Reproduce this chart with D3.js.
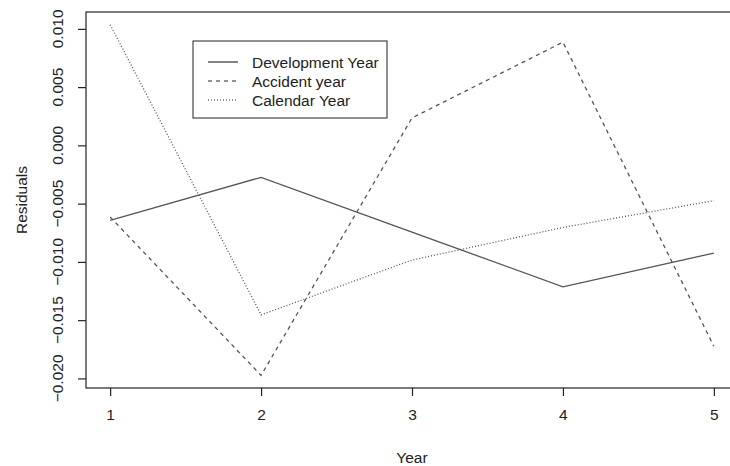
<!DOCTYPE html>
<html>
<head>
<meta charset="utf-8">
<script src="https://cdn.jsdelivr.net/npm/d3@7"></script>
<style>
  body { margin: 0; background: #fff; }
  svg text { font-family: "Liberation Sans", Arial, sans-serif; fill: #222; }
</style>
</head>
<body>
<div id="chart"></div>
<script>
const years = [1, 2, 3, 4, 5];
const developmentYear = [-0.0064, -0.0027, -0.0074, -0.0121, -0.0092];
const accidentYear = [-0.0061, -0.0197, 0.0024, 0.0089, -0.0172];
const calendarYear = [0.0104, -0.0145, -0.0098, -0.0070, -0.0047];
const yTicks = [-0.020, -0.015, -0.010, -0.005, 0.000, 0.005, 0.010];
const seriesNames = ["Development Year", "Accident year", "Calendar Year"];

const width = 730;
const height = 466;
const box = { left: 86, right: 738, top: 12, bottom: 388 };
const lineColor = "#555";
const dashes = [null, "4,4", "1,2"];
const fontSize = "15.5px";

const svg = d3.select("#chart")
  .append("svg")
  .attr("width", width)
  .attr("height", height);

// R style: 4% padding around the data range
const xScale = d3.scaleLinear()
  .domain([0.84, 5.16])
  .range([box.left, box.right]);

const yScale = d3.scaleLinear()
  .domain([-0.02078, 0.01149])
  .range([box.bottom, box.top]);

const series = [developmentYear, accidentYear, calendarYear];

const line = d3.line()
  .x((d, i) => xScale(years[i]))
  .y((d) => yScale(d));

for (var i = 0; i < series.length; i++) {
  svg.append("path")
    .attr("d", line(series[i]))
    .attr("fill", "none")
    .attr("stroke", lineColor)
    .attr("stroke-width", 1.3)
    .attr("stroke-dasharray", dashes[i]);
}

// plot frame
svg.append("rect")
  .attr("x", box.left)
  .attr("y", box.top)
  .attr("width", box.right - box.left)
  .attr("height", box.bottom - box.top)
  .attr("fill", "none")
  .attr("stroke", "#222")
  .attr("stroke-width", 1.2);

// axes
const xAxis = svg.append("g")
  .attr("transform", `translate(0,${box.bottom})`)
  .call(d3.axisBottom(xScale).tickValues(years).tickSize(8).tickPadding(13).tickFormat(d3.format("d")));

const yAxis = svg.append("g")
  .attr("transform", `translate(${box.left},0)`)
  .call(d3.axisLeft(yScale).tickValues(yTicks).tickSize(8).tickFormat(d3.format(".3f")));

[xAxis, yAxis].forEach((ax) => {
  ax.select(".domain").remove();
  ax.attr("color", "#222");
  ax.selectAll("line").attr("stroke", "#222").attr("stroke-width", 1.2);
  ax.selectAll("text").style("font-size", fontSize).attr("fill", "#222");
});

// rotated y tick labels like R las=0
yAxis.selectAll("text")
  .attr("x", null)
  .attr("dy", null)
  .attr("text-anchor", "middle")
  .attr("transform", (d) => `translate(-29,${yScale(d) - 0.5}) rotate(-90)`)
  .attr("y", 0)
  .attr("dominant-baseline", "central");
yAxis.selectAll(".tick").attr("transform", null);
yAxis.selectAll(".tick line")
  .attr("y1", (d) => yScale(d))
  .attr("y2", (d) => yScale(d));

// axis titles
svg.append("text")
  .attr("x", xScale(3))
  .attr("y", 463)
  .attr("text-anchor", "middle")
  .style("font-size", fontSize)
  .text("Year");

svg.append("text")
  .attr("transform", `translate(27,${(box.top + box.bottom) / 2}) rotate(-90)`)
  .attr("text-anchor", "middle")
  .style("font-size", fontSize)
  .text("Residuals");

// legend
const legend = svg.append("g").attr("transform", "translate(193,41)");
legend.append("rect")
  .attr("width", 194)
  .attr("height", 77)
  .attr("fill", "#fff")
  .attr("stroke", "#222")
  .attr("stroke-width", 1);

seriesNames.forEach((name, i) => {
  const y = 21 + i * 19;
  legend.append("line")
    .attr("x1", 15)
    .attr("x2", 45)
    .attr("y1", y)
    .attr("y2", y)
    .attr("stroke", "#222")
    .attr("stroke-width", 1.1)
    .attr("stroke-dasharray", dashes[i]);
  legend.append("text")
    .attr("x", 59)
    .attr("y", y)
    .attr("dominant-baseline", "central")
    .style("font-size", fontSize)
    .text(name);
});
</script>
</body>
</html>
